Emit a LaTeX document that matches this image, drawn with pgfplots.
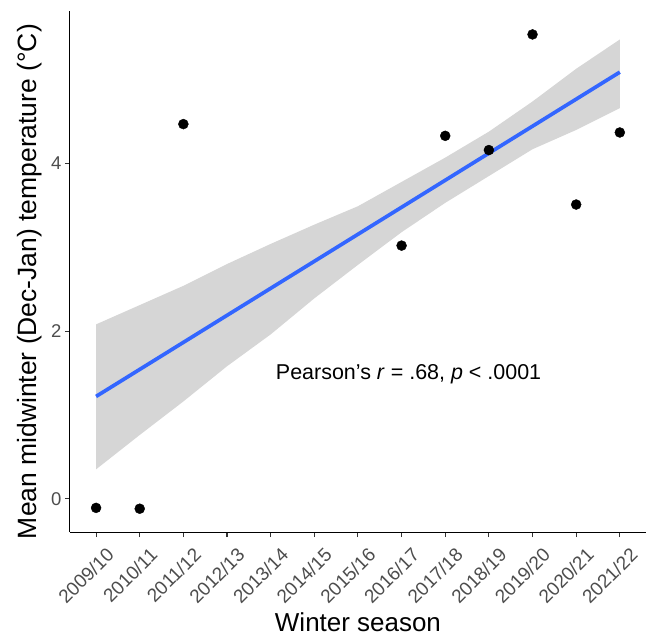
\documentclass[border=0pt]{standalone}
\usepackage{pgfplots}
\pgfplotsset{compat=1.18}
\usepackage{pgfplotstable}
\usepgfplotslibrary{fillbetween}
\usepackage{fontspec}
\setmainfont{Liberation Sans}

\definecolor{smoothblue}{HTML}{3366FF}
\definecolor{bandgrey}{HTML}{D6D6D6}
\definecolor{tickgrey}{HTML}{4D4D4D}

% season index (0 = 2009/10) and mean Dec-Jan temperature
\pgfplotstableread{
idx temp
0 -0.11
1 -0.12
2 4.47
7 3.02
8 4.33
9 4.16
10 5.54
11 3.51
12 4.37
}\pointtable

% confidence band
\pgfplotstableread{
idx lower upper
0 0.35 2.08
1 0.76 2.31
2 1.16 2.54
3 1.58 2.80
4 1.96 3.04
5 2.39 3.27
6 2.79 3.49
7 3.18 3.78
8 3.53 4.07
9 3.85 4.38
10 4.17 4.74
11 4.40 5.13
12 4.66 5.48
}\bandtable

\begin{document}
\begin{tikzpicture}
\begin{axis}[
    width=577pt, height=522pt, scale only axis,
    xmin=-0.6, xmax=12.6, ymin=-0.4, ymax=5.82,
    axis x line*=bottom, axis y line*=left,
    axis line style={black, line width=1.1pt},
    tick align=outside, major tick length=5pt,
    tick style={black!80, line width=1.1pt},
    xtick={0,...,12},
    xticklabels={2009/10,2010/11,2011/12,2012/13,2013/14,2014/15,2015/16,2016/17,2017/18,2018/19,2019/20,2020/21,2021/22},
    xticklabel style={rotate=45, anchor=north east, text=tickgrey, font=\fontsize{19}{21}\selectfont, xshift=1pt, yshift=-12pt, inner sep=1pt},
    ytick={0,2,4},
    yticklabel style={text=tickgrey, font=\fontsize{18.5}{20}\selectfont},
    /pgf/number format/assume math mode=true,
    xlabel={Winter season},
    ylabel={Mean midwinter (Dec-Jan) temperature (°C)},
    xlabel style={font=\fontsize{26}{28}\selectfont, at={(rel axis cs:0.5,0)}, anchor=base, yshift=-99pt},
    % label is turned by 90 degrees: yshift moves it left, xshift moves it up
    ylabel style={font=\fontsize{26.5}{28}\selectfont, at={(rel axis cs:0,0.5)}, anchor=center, xshift=-10pt, yshift=40pt},
    clip=false,
]
    \addplot[name path=up, draw=none, forget plot] table[x=idx, y=upper] {\bandtable};
    \addplot[name path=lo, draw=none, forget plot] table[x=idx, y=lower] {\bandtable};
    \addplot[bandgrey, draw=none] fill between[of=up and lo];

    % fitted line
    \addplot[smoothblue, line width=3.7pt] coordinates {(0,1.22) (12,5.09)};

    \addplot[only marks, mark=*, mark size=5pt, black] table[x=idx, y=temp] {\pointtable};

    \node[font=\fontsize{21.5}{24}\selectfont] at (axis cs:7.16,1.48)
        {Pearson's \textit{r} = .68, \textit{p} < .0001};
\end{axis}
\pgfresetboundingbox
\path ([shift={(-70pt,-104pt)}]current axis.south west) rectangle ([yshift=11pt]current axis.north east);
\end{tikzpicture}
\end{document}
